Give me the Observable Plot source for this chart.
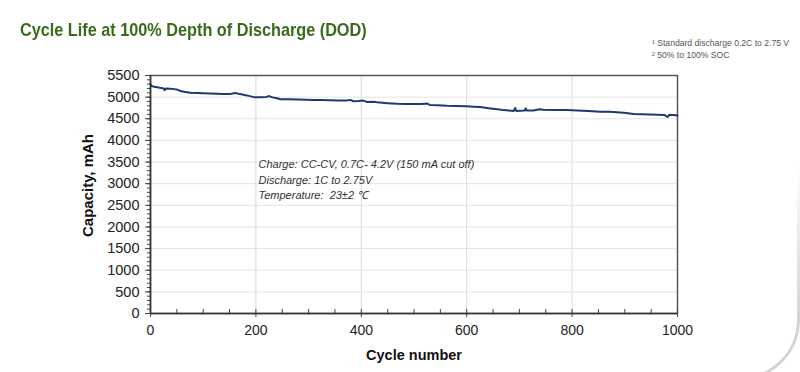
<!DOCTYPE html>
<html>
<head>
<meta charset="utf-8">
<script src="https://cdn.jsdelivr.net/npm/d3@7"></script>
<script src="https://cdn.jsdelivr.net/npm/@observablehq/plot@0.6"></script>
<style>
  html, body { margin: 0; padding: 0; background: #fff; overflow: hidden; width: 800px; height: 372px; }
  #wrap { position: relative; width: 800px; height: 372px; }
  #title { position: absolute; left: 20px; top: 19px; font-family: "Liberation Sans", Arial, sans-serif; font-weight: bold; font-size: 19px; color: #3a6b1c; white-space: nowrap; transform: scaleX(0.855); transform-origin: 0 0; }
  #notes { position: absolute; left: 652px; top: 38px; font-family: "Liberation Sans", Arial, sans-serif; font-size: 8.6px; line-height: 11.5px; color: #555; white-space: nowrap; }
  #deco { position: absolute; left: -100px; top: -100px; width: 900px; height: 480px; box-sizing: border-box; border: 3px solid #d2d2d2; border-radius: 60px; pointer-events: none;
          -webkit-mask-image: linear-gradient(to bottom, transparent 55%, black 88%); mask-image: linear-gradient(to bottom, transparent 55%, black 88%); }
  #chart { position: absolute; left: 0; top: 0; }
</style>
</head>
<body>
<div id="wrap">
  <div id="deco"></div>
  <div id="chart"></div>
  <div id="title"></div>
  <div id="notes"></div>
</div>
<script>
const titleText = "Cycle Life at 100% Depth of Discharge (DOD)";
const footnotes = ["¹ Standard discharge 0.2C to 2.75 V", "² 50% to 100% SOC"];
const annotationLines = ["Charge: CC-CV, 0.7C- 4.2V (150 mA cut off)", "Discharge: 1C to 2.75V", "Temperature:  23±2 ℃"];
const xLabel = "Cycle number";
const yLabel = "Capacity, mAh";
const xTicks = [0, 200, 400, 600, 800, 1000];
const xGridTicks = [200, 400, 600, 800];
const xMinorTicks = d3.range(0, 1001, 50);
const yTicks = [0, 500, 1000, 1500, 2000, 2500, 3000, 3500, 4000, 4500, 5000, 5500];
const yMinorTicks = d3.range(0, 5501, 100);

const cycles = [0, 3, 10, 18, 25, 27, 29, 38, 45, 52, 57, 66, 76, 88, 100, 113, 126, 138, 150, 156, 160, 165, 170, 183, 196, 208, 220, 225, 230, 240, 247, 262, 280, 295, 310, 325, 340, 356, 373, 379, 385, 395, 404, 410, 424, 430, 450, 468, 485, 500, 515, 525, 530, 545, 563, 580, 600, 613, 626, 645, 658, 670, 680, 689, 692, 694, 702, 710, 712, 714, 727, 738, 746, 768, 790, 810, 830, 854, 870, 885, 898, 917, 933, 949, 962, 975, 981, 984, 992, 1000];
const capacity = [5300, 5250, 5235, 5215, 5200, 5160, 5200, 5195, 5185, 5170, 5140, 5120, 5100, 5095, 5090, 5085, 5080, 5075, 5070, 5085, 5095, 5085, 5070, 5040, 5000, 5000, 5005, 5025, 5000, 4975, 4950, 4950, 4945, 4940, 4935, 4932, 4930, 4925, 4925, 4935, 4905, 4910, 4920, 4890, 4895, 4880, 4860, 4845, 4842, 4840, 4843, 4852, 4820, 4812, 4800, 4795, 4790, 4780, 4770, 4740, 4720, 4700, 4690, 4680, 4750, 4680, 4685, 4690, 4740, 4690, 4690, 4720, 4710, 4705, 4700, 4690, 4680, 4660, 4660, 4650, 4640, 4610, 4605, 4600, 4595, 4590, 4540, 4590, 4585, 4575];

const data = cycles.map((c, i) => ({cycle: c, capacity: capacity[i]}));

document.getElementById("title").textContent = titleText;
document.getElementById("notes").innerHTML = footnotes.map(s => `<div>${s}</div>`).join("");

const chart = Plot.plot({
  width: 800,
  height: 372,
  marginLeft: 150,
  marginRight: 123,
  marginTop: 75,
  marginBottom: 59,
  style: {fontFamily: "'Liberation Sans', Arial, sans-serif", fontSize: "14px", color: "#222", background: "transparent"},
  x: {domain: [0, 1000]},
  y: {domain: [0, 5500]},
  marks: [
    Plot.gridX({ticks: xGridTicks, stroke: "#d9d9d9", strokeOpacity: 1}),
    Plot.gridY({ticks: yTicks.filter(d => d > 0 && d < 5500), stroke: "#e3e3e3", strokeOpacity: 1}),
    Plot.frame({stroke: "#555", strokeWidth: 1.5}),
    Plot.axisX({ticks: xMinorTicks, tickSize: -4, text: null, label: null, stroke: "#444"}),
    Plot.axisX({ticks: xTicks, tickSize: 4, tickPadding: 8, tickFormat: d3.format("d"), label: null, stroke: "#444", fontSize: 14}),
    Plot.axisY({ticks: yMinorTicks, tickSize: 3, text: null, label: null, stroke: "#444"}),
    Plot.axisY({ticks: yTicks, tickSize: 5, tickPadding: 6, tickFormat: d3.format("d"), label: null, stroke: "#444", fontSize: 14.5}),
    Plot.ruleY([0], {stroke: "#333", strokeWidth: 1.5}),
    Plot.ruleX([0], {stroke: "#333", strokeWidth: 1.5}),
    Plot.line(data, {x: "cycle", y: "capacity", stroke: "#1e3a6e", strokeWidth: 2}),
    Plot.text([annotationLines.join("\n")], {frameAnchor: "top-left", dx: 108, dy: 82, lineAnchor: "top", textAnchor: "start", lineHeight: 1.4, fontSize: 11, fontStyle: "italic", fill: "#333"}),
    Plot.text([xLabel], {frameAnchor: "bottom", dy: 42, lineAnchor: "middle", textAnchor: "middle", fontWeight: "bold", fontSize: 14.5, fill: "#111"}),
    Plot.text([yLabel], {frameAnchor: "left", dx: -62, dy: -9, rotate: -90, textAnchor: "middle", lineAnchor: "middle", fontWeight: "bold", fontSize: 15, fill: "#111"})
  ]
});
document.getElementById("chart").appendChild(chart);
</script>
</body>
</html>
